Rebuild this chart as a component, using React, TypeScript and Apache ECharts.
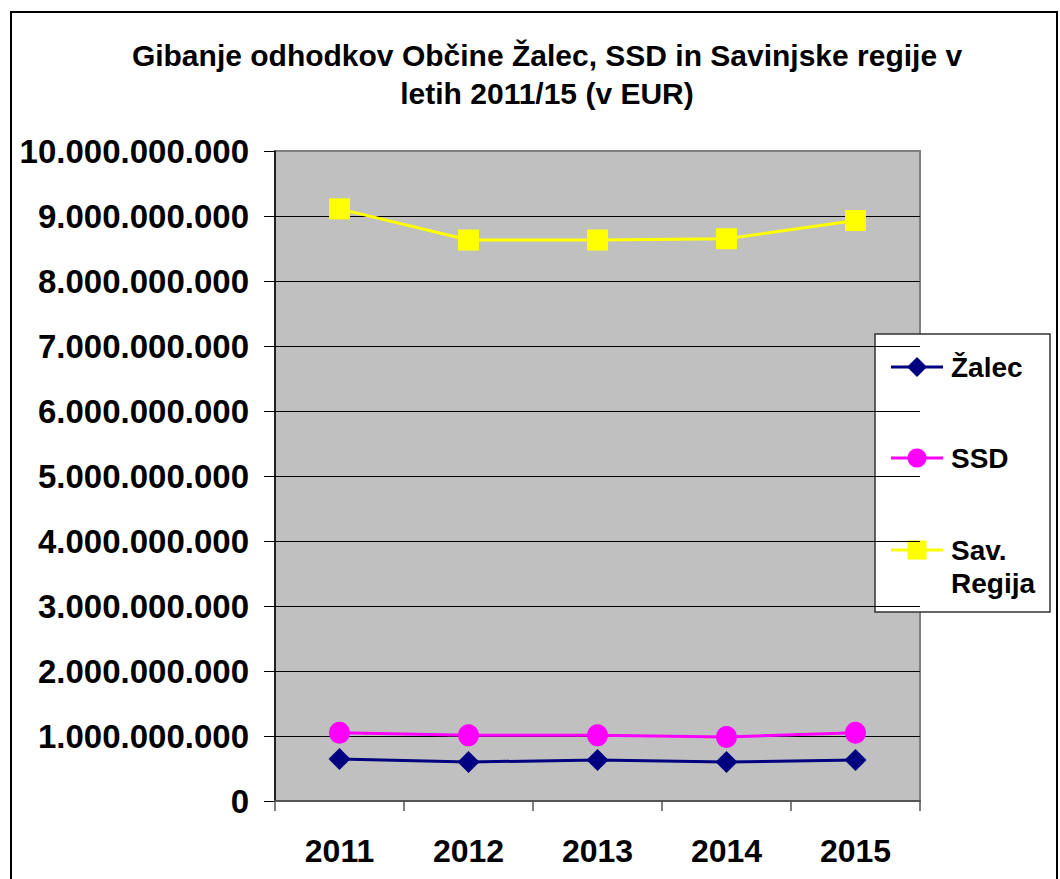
import React, { useEffect, useRef } from 'react';
import * as echarts from 'echarts';

const years = ['2011', '2012', '2013', '2014', '2015'];
const zalec = [646000000, 600000000, 630000000, 600000000, 630000000];
const ssd = [1050000000, 1010000000, 1010000000, 985000000, 1050000000];
const savRegija = [9110000000, 8630000000, 8630000000, 8650000000, 8930000000];
const seriesNames = ['Žalec', 'SSD', 'Sav. Regija'];
const legendLabels = ['Žalec', 'SSD', 'Sav.\nRegija'];
const seriesColors = ['#000080', '#FF00FF', '#FFFF00'];
const titleText = 'Gibanje odhodkov Občine Žalec, SSD in Savinjske regije v\nletih 2011/15 (v EUR)';

const FONT = '"Liberation Sans", Arial, sans-serif';

const fmt = (v: number) => Math.round(v).toString().replace(/\B(?=(\d{3})+(?!\d))/g, '.');

export default function App() {
  const ref = useRef<HTMLDivElement>(null);
  useEffect(() => {
    if (!ref.current) return;
    const chart = echarts.init(ref.current, undefined, { renderer: 'svg' });

    const legendYs = [367, 458, 550];
    const legendChildren: any[] = [
      {
        type: 'rect',
        shape: { x: 875, y: 334, width: 175, height: 278 },
        style: { fill: '#ffffff', stroke: '#333', lineWidth: 1.5 },
      },
    ];
    legendYs.forEach((y, i) => {
      legendChildren.push({
        type: 'line',
        shape: { x1: 891, y1: y, x2: 943, y2: y },
        style: { stroke: seriesColors[i], lineWidth: 3 },
      });
      if (i === 0) {
        legendChildren.push({
          type: 'polygon',
          shape: { points: [[917, y - 10], [927, y], [917, y + 10], [907, y]] },
          style: { fill: seriesColors[i] },
        });
      } else if (i === 1) {
        legendChildren.push({
          type: 'circle',
          shape: { cx: 917, cy: y, r: 9.5 },
          style: { fill: seriesColors[i] },
        });
      } else {
        legendChildren.push({
          type: 'rect',
          shape: { x: 907.5, y: y - 9.5, width: 19, height: 19 },
          style: { fill: seriesColors[i] },
        });
      }
      legendChildren.push({
        type: 'text',
        x: 951,
        y: y - 16.5,
        style: {
          text: legendLabels[i],
          fontSize: 28,
          fontWeight: 'bold',
          fontFamily: FONT,
          fill: '#000',
          lineHeight: 33,
          verticalAlign: 'top',
          align: 'left',
        },
      });
    });

    const symbols = ['diamond', 'circle', 'rect'];
    const sizes: any[] = [[22, 22], [21, 22], [21, 21]];
    const datas = [zalec, ssd, savRegija];

    chart.setOption({
      animation: false,
      backgroundColor: '#ffffff',
      title: {
        text: titleText,
        left: 542,
        top: 31,
        textAlign: 'center',
        textStyle: {
          fontSize: 30,
          fontWeight: 'bold',
          fontFamily: FONT,
          color: '#000',
          lineHeight: 38,
        },
      },
      grid: {
        left: 275,
        top: 151,
        right: 140,
        bottom: 78,
        show: true,
        backgroundColor: '#C0C0C0',
        borderColor: '#808080',
        borderWidth: 2,
      },
      xAxis: {
        type: 'category',
        data: years,
        boundaryGap: true,
        axisLine: { lineStyle: { color: '#555', width: 2 } },
        axisTick: { show: true, length: 10, inside: false, lineStyle: { color: '#555', width: 1.5 } },
        axisLabel: {
          fontSize: 32,
          fontWeight: 'bold',
          fontFamily: FONT,
          color: '#000',
          margin: 34,
        },
        splitLine: { show: false },
      },
      yAxis: {
        type: 'value',
        min: 0,
        max: 10000000000,
        interval: 1000000000,
        axisLine: { show: true, lineStyle: { color: '#000', width: 1.5 } },
        axisTick: { show: true, length: 11, inside: false, lineStyle: { color: '#000', width: 1 } },
        axisLabel: {
          fontSize: 33,
          fontWeight: 'bold',
          fontFamily: FONT,
          color: '#000',
          margin: 26,
          formatter: (v: number) => fmt(v),
        },
        splitLine: {
          show: true,
          showMinLine: false,
          showMaxLine: false,
          lineStyle: { color: '#000', width: 1 },
        },
      },
      series: datas.map((d, i) => ({
        name: seriesNames[i],
        type: 'line',
        data: d,
        symbol: symbols[i],
        symbolSize: sizes[i],
        showAllSymbol: true,
        itemStyle: { color: seriesColors[i] },
        lineStyle: { color: seriesColors[i], width: 3 },
        z: 3 + i,
      })),
      graphic: [
        {
          type: 'rect',
          shape: { x: 11, y: 12, width: 1046, height: 900 },
          style: { fill: 'none', stroke: '#000', lineWidth: 2 },
          silent: true,
        },
        { type: 'group', children: legendChildren },
      ],
    });
    return () => chart.dispose();
  }, []);

  return (
    <div
      ref={ref}
      style={{ position: 'absolute', left: 0, top: 0, width: 1060, height: 879, background: '#fff' }}
    />
  );
}
